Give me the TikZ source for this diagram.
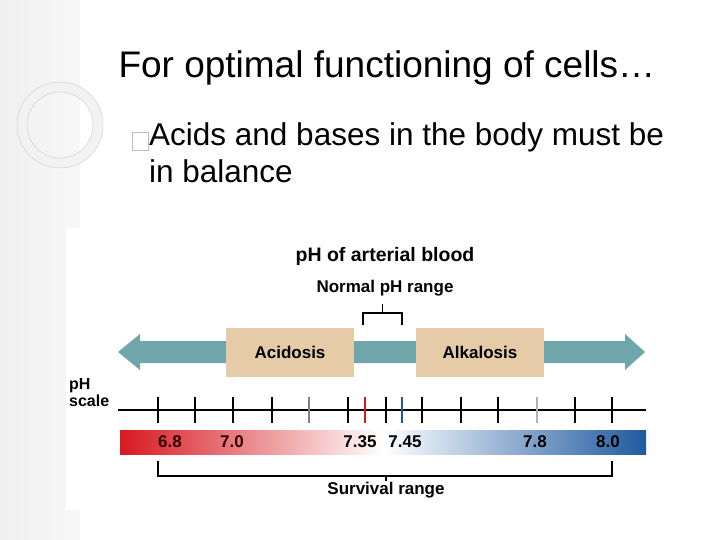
\documentclass[tikz,border=0pt]{standalone}
\usepackage{fontspec}
\setmainfont{Liberation Sans}
\begin{document}
\begin{tikzpicture}[x=1pt,y=-1pt,
  tick/.style={line width=1.6pt},
  lbl/.style={font=\bfseries\fontsize{17}{19}\selectfont},
  box/.style={fill=boxc,minimum width=128pt,minimum height=49pt,font=\bfseries\fontsize{17}{19}\selectfont}]
\definecolor{teal}{HTML}{6FA5AB}
\definecolor{boxc}{HTML}{E5CBA8}
\definecolor{redc}{HTML}{D71920}
\definecolor{bluec}{HTML}{1F5AA0}
\useasboundingbox (0,0) rectangle (720,540);
\fill[white] (0,0) rectangle (720,540);
\shade[left color=gray!12,right color=gray!6] (0,0) rectangle (80,540);
\draw[gray!10,line width=10pt] (60,125) circle (38);
\draw[gray!35,line width=0.5pt] (60,125) circle (43) (60,125) circle (33);
\draw[white,line width=1.5pt] (70,0) arc (0:-90:58);
\fill[white] (66,228) rectangle (720,510);
\node[anchor=west,font=\fontsize{37}{40}\selectfont] (title) at (115,68) {For optimal functioning of cells\dots};
\draw[gray!50] (132,132) rectangle (148,150);
\node[anchor=north west,font=\fontsize{31.5}{37}\selectfont,align=left,inner sep=0pt] (bul) at (149,122) {Acids and bases in the body must be\\in balance};
\node[lbl,font=\bfseries\fontsize{19.5}{21}\selectfont] (t1) at (385,256) {pH of arterial blood};
\node[lbl] (t2) at (385,288) {Normal pH range};
\draw[line width=1.8pt] (363,325) -- (363,313) -- (402,313) -- (402,325) (382.5,313) -- (382.5,304);
\fill[teal] (140,341) -- (140,334) -- (118,352) -- (140,370) -- (140,363) -- (625,363) -- (625,370) -- (645,352) -- (625,334) -- (625,341) -- cycle;
\node[box] (acid) at (290,352) {Acidosis};
\node[box] (alk) at (480,352) {Alkalosis};
\node[lbl,anchor=west,align=left,font=\bfseries\fontsize{16}{17}\selectfont,inner sep=0pt] (ph) at (69,393) {pH\\scale};
\draw[line width=1.6pt] (118,410) -- (646,410);
\foreach \x in {158,195,233,272,348,386,422,461,498,575,612} \draw[tick] (\x,397) -- (\x,423);
\draw[tick,gray] (309,397) -- (309,423);
\draw[tick,redc] (365,397) -- (365,423);
\draw[tick,bluec] (402,397) -- (402,423);
\draw[tick,gray!60] (537,397) -- (537,423);
\shade[left color=redc,right color=white] (120,430) rectangle (383,454);
\shade[left color=white,right color=bluec] (383,430) rectangle (646,454);
\node[lbl,text=black!80!red] (a) at (170,442) {6.8};
\node[lbl,text=black!80!red] (b) at (232,442) {7.0};
\node[lbl] (c) at (360,442) {7.35};
\node[lbl] (d) at (405,442) {7.45};
\node[lbl] (e) at (535,442) {7.8};
\node[lbl] (f) at (608,442) {8.0};
\draw[line width=1.8pt] (158,461) -- (158,476) -- (612,476) -- (612,461) (386,476) -- (386,481);
\node[lbl] (sr) at (386,490) {Survival range};
\end{tikzpicture}
\end{document}
